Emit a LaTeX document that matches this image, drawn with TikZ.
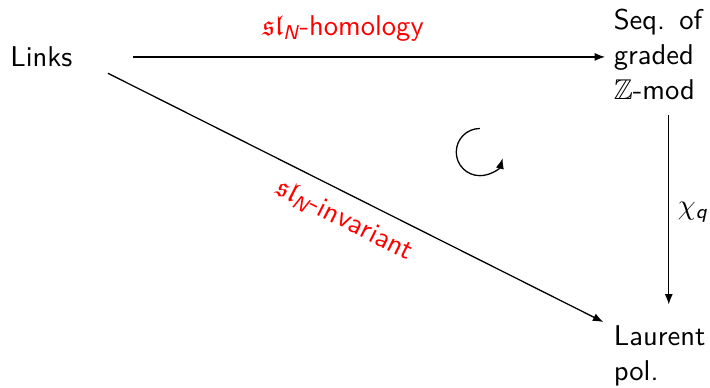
\documentclass[tikz,border=0pt]{standalone}
\usepackage{amsmath,amssymb,amsfonts}
\usepackage{tikz}
\usetikzlibrary{arrows.meta,positioning,calc}
\usepackage{xcolor}
\renewcommand{\familydefault}{\sfdefault}
\newcommand{\sfit}[1]{\textsf{\itshape #1}}

\begin{document}
\begin{tikzpicture}[
    obj/.style={inner sep=0pt, font=\fontsize{10}{12.2}\selectfont},
    blk/.style={obj, text width=32.2pt, anchor=west},
    arr/.style={-{Latex[length=1.3mm,width=1mm]}, line width=0.45pt},
    lbl/.style={text=red, font=\fontsize{10}{12}\selectfont}
]
    \useasboundingbox (0,0) rectangle (8.73,4.77);
    \node[obj, anchor=west] (links) at (0.12,4.07) {Links};
    \node[blk] (seq) at (7.54,4.10) {Seq. of graded $\mathbb{Z}$-mod};
    \node[blk, anchor=north west] (laurent) at (7.54,0.775) {Laurent pol.};
    \coordinate (rot) at (5.90,2.90);

    \draw[arr, shorten <=0.74cm, shorten >=0.1cm] (links.east) -- (links.east -| seq.west)
        node[lbl, midway, above, yshift=2pt] {$\mathfrak{sl}_{\sfit{N}}$-homology};
    \draw[arr] ([shift={(0.43,-0.07)}]links.south east) -- ([shift={(-0.12,0.035)}]laurent.north west)
        node[lbl, midway, below, sloped, yshift=-1pt] {$\mathfrak{sl}_{\sfit{N}}$-invariant};
    \draw[arr, shorten <=0.18cm, shorten >=0.25cm] ([xshift=0.11cm]seq.south) -- ([xshift=0.11cm]laurent.north)
        node[obj, midway, right, xshift=3pt] {$\chi_{\sfit{q}}$};
    \draw[arr] ([shift={(90:0.29)}]rot) arc[start angle=90, end angle=345, radius=0.29];
\end{tikzpicture}
\end{document}
